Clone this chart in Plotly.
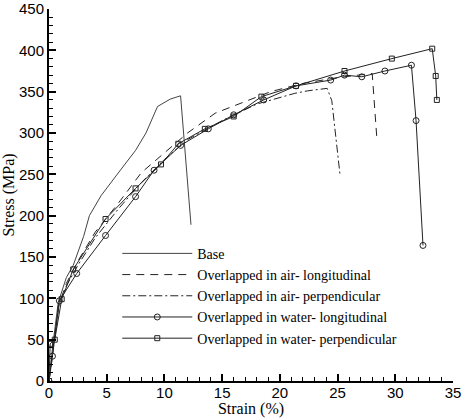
import plotly.graph_objects as go

# Base
base_x = [0, 0.3, 0.8, 1.5, 2.1, 3.0, 3.5, 4.5, 5.8, 7.5, 8.4, 9.4, 10.5, 11.4, 12.3]
base_y = [0, 40, 95, 125, 140, 175, 200, 224, 248, 279, 300, 332, 341, 345, 189]

# Overlapped in air - longitudinal (dashed)
air_long_x = [0, 0.3, 0.8, 1.5, 2.5, 4.0, 6.0, 8.0, 10.0, 12.0, 14.4, 16.1, 19.2, 22.0, 25.0, 28.0, 28.4]
air_long_y = [0, 30, 90, 118, 145, 180, 215, 252, 276, 300, 324, 333, 350, 360, 367, 372, 294]

# Overlapped in air - perpendicular (dash-dot)
air_perp_x = [0, 0.3, 0.9, 1.5, 2.5, 4.0, 6.0, 8.0, 10.0, 12.0, 15.0, 18.0, 21.3, 22.4, 24.1, 24.5, 25.2]
air_perp_y = [0, 35, 95, 115, 140, 173, 208, 240, 268, 292, 315, 335, 348, 351, 354, 339, 251]

# Overlapped in water - longitudinal (circles)
water_long_x = [0, 0.3, 0.9, 2.4, 4.9, 7.5, 9.1, 11.4, 13.8, 16.0, 18.6, 21.4, 24.4, 25.6, 27.1, 29.1, 31.4, 31.8, 32.4]
water_long_y = [0, 30, 97, 130, 176, 223, 255, 285, 305, 322, 340, 357, 364, 370, 368, 375, 382, 315, 164]

# Overlapped in water - perpendicular (squares)
water_perp_x = [0, 0.1, 0.5, 1.1, 2.1, 4.9, 7.5, 9.7, 11.2, 13.5, 16.0, 18.4, 21.4, 25.6, 29.7, 33.2, 33.5, 33.6]
water_perp_y = [0, 45, 50, 99, 135, 196, 233, 262, 287, 305, 320, 344, 357, 375, 390, 402, 369, 340]

names = ["Base",
         "Overlapped in air- longitudinal",
         "Overlapped in air- perpendicular",
         "Overlapped in water- longitudinal",
         "Overlapped in water- perpendicular"]

fig = go.Figure()
fig.add_trace(go.Scatter(x=base_x, y=base_y, mode="lines", name=names[0],
                         line=dict(color="#444444", width=1)))
fig.add_trace(go.Scatter(x=air_long_x, y=air_long_y, mode="lines", name=names[1],
                         line=dict(color="#222222", width=1, dash="8px,6px")))
fig.add_trace(go.Scatter(x=air_perp_x, y=air_perp_y, mode="lines", name=names[2],
                         line=dict(color="#222222", width=1, dash="8px,3px,2px,3px")))
fig.add_trace(go.Scatter(x=water_long_x, y=water_long_y, mode="lines+markers", name=names[3],
                         line=dict(color="#222222", width=1),
                         marker=dict(symbol="circle-open", size=6, color="#222222", line=dict(width=1))))
fig.add_trace(go.Scatter(x=water_perp_x, y=water_perp_y, mode="lines+markers", name=names[4],
                         line=dict(color="#222222", width=1),
                         marker=dict(symbol="square-open", size=5, color="#222222", line=dict(width=1))))

fig.update_layout(
    width=463, height=418,
    margin=dict(l=49, r=10, t=9, b=37),
    paper_bgcolor="white", plot_bgcolor="white",
    font=dict(family="Liberation Sans, Arial", size=15, color="black"),
    legend=dict(x=0.169, y=0.385, xanchor="left", yanchor="top",
                font=dict(family="Liberation Serif, Times New Roman", size=14, color="black"),
                bgcolor="rgba(0,0,0,0)", tracegroupgap=0, itemwidth=70),
    xaxis=dict(range=[0, 35], dtick=5, showgrid=False, zeroline=False,
               showline=True, linecolor="black", linewidth=2,
               ticks="inside", ticklen=7, tickwidth=2, tickcolor="black",
               ticklabeloverflow="allow", automargin=False, ticklabelstandoff=-3,
               minor=dict(dtick=1, ticks="inside", ticklen=4, tickwidth=1, tickcolor="black"),
               title=dict(text="Strain (%)", standoff=0,
                          font=dict(family="Liberation Serif, Times New Roman", size=16)),
               tickfont=dict(size=15)),
    yaxis=dict(range=[0, 450], dtick=50, showgrid=False, zeroline=False,
               showline=True, linecolor="black", linewidth=2,
               ticks="inside", ticklen=7, tickwidth=2, tickcolor="black",
               ticklabeloverflow="allow", automargin=False,
               minor=dict(dtick=10, ticks="inside", ticklen=4, tickwidth=1, tickcolor="black"),
               title=dict(text="Stress (MPa)", standoff=0,
                          font=dict(family="Liberation Serif, Times New Roman", size=16)),
               tickfont=dict(size=15)),
)

fig.write_html("out.html")
